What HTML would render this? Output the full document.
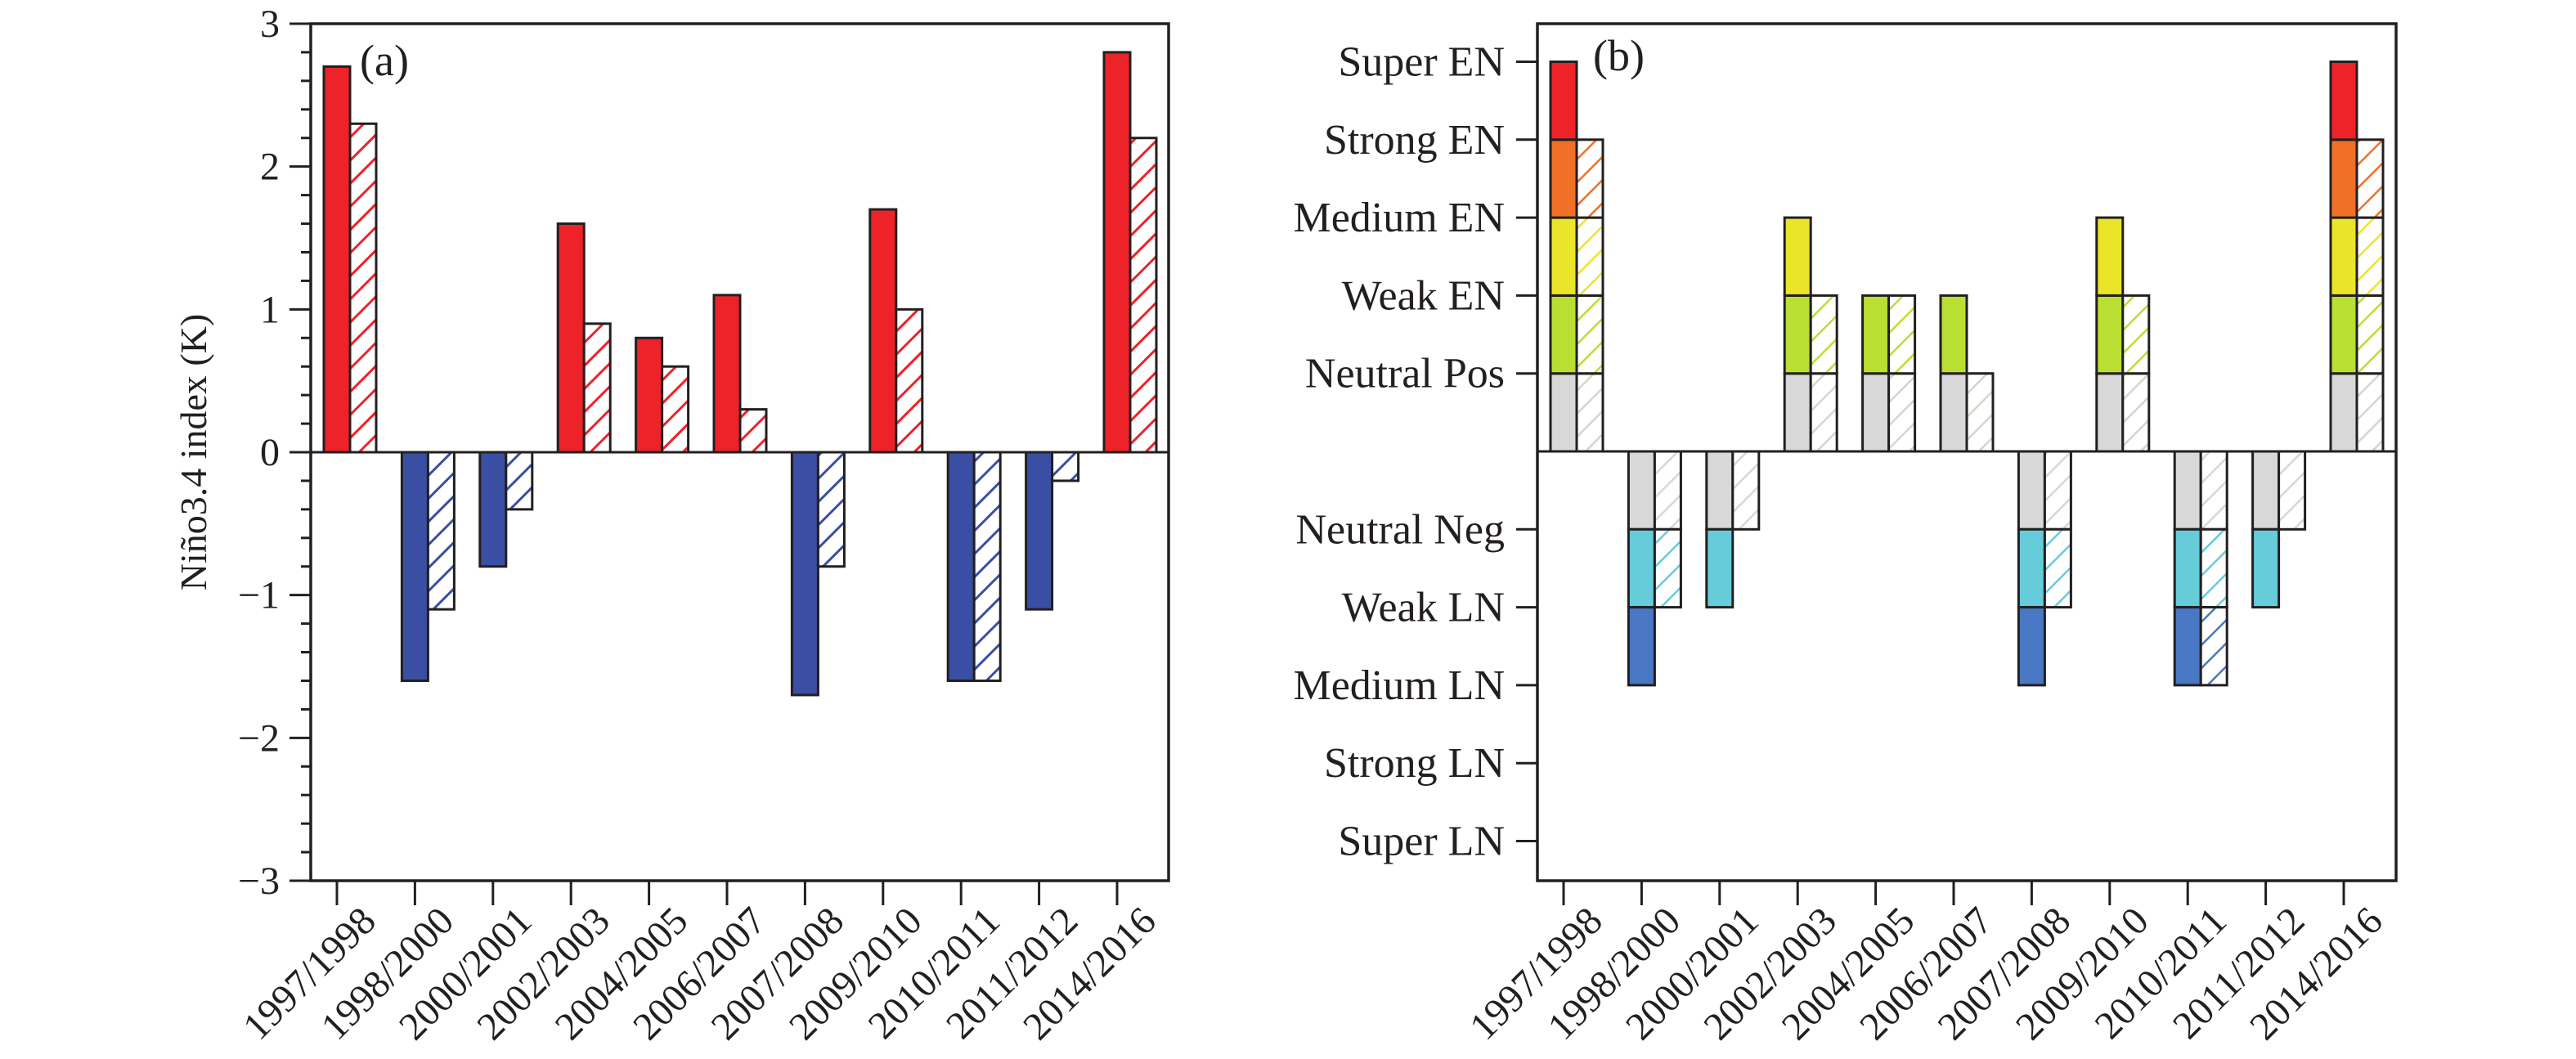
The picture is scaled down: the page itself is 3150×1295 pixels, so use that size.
<!DOCTYPE html>
<html><head><meta charset="utf-8">
<style>
html,body{margin:0;padding:0;background:#fff;}
svg{display:block;font-family:"Liberation Serif","DejaVu Serif",serif;}
</style></head>
<body>
<svg id="chart" width="3150" height="1295" viewBox="0 0 3150 1295" xmlns="http://www.w3.org/2000/svg">
<defs>
  <pattern id="hatch-red" patternUnits="userSpaceOnUse" width="20" height="20" patternTransform="rotate(45)"><rect width="20" height="20" fill="#fff"/><line x1="0" y1="0" x2="0" y2="20" stroke="#ee2229" stroke-width="6"/></pattern>
  <pattern id="hatch-navy" patternUnits="userSpaceOnUse" width="20" height="20" patternTransform="rotate(45)"><rect width="20" height="20" fill="#fff"/><line x1="0" y1="0" x2="0" y2="20" stroke="#3a4ea3" stroke-width="6"/></pattern>
</defs>
<g id="panelA"></g>
<g id="panelB"></g>
</svg>
<script>
const categories = ["1997/1998","1998/2000","2000/2001","2002/2003","2004/2005","2006/2007","2007/2008","2009/2010","2010/2011","2011/2012","2014/2016"];
const ninoSolid = [2.7,-1.6,-0.8,1.6,0.8,1.1,-1.7,1.7,-1.6,-1.1,2.8];
const ninoHatch = [2.3,-1.1,-0.4,0.9,0.6,0.3,-0.8,1.0,-1.6,-0.2,2.2];
const yTicksA = [-3,-2,-1,0,1,2,3];
const levelLabels = ["Super LN","Strong LN","Medium LN","Weak LN","Neutral Neg","Neutral Pos","Weak EN","Medium EN","Strong EN","Super EN"];
const levelValues = [-5,-4,-3,-2,-1,1,2,3,4,5];
const levelSolid = [5,-3,-2,3,2,2,-3,3,-3,-2,5];
const levelHatch = [4,-2,-1,2,2,1,-2,2,-3,-1,4];
const posColors = ["#d8d8d8","#badf33","#ebe52a","#f07028","#ee2229"];
const negColors = ["#d8d8d8","#66ccda","#4878c4","#3a4ea3","#2a3580"];
const hatchPos = ["#d2d6cc","#badf33","#ebe52a","#f07028","#ee2229"];
const hatchNeg = ["#d2d8dc","#66ccda","#4878c4","#3a4ea3","#2a3580"];

const NS="http://www.w3.org/2000/svg";
function mk(parent, tag, attrs){const e=document.createElementNS(NS,tag);for(const k in attrs)e.setAttribute(k,attrs[k]);parent.appendChild(e);return e;}

const TOP=29, BOT=1077, STEP=95.4, BW=32;
// ---------- Panel A ----------
const A=document.getElementById('panelA');
const aL=380, aR=1429;
const yA=v=>TOP+(3-v)*(BOT-TOP)/6;
const xA=i=>aL+32+i*STEP;
categories.forEach((c,i)=>{
  const v=ninoSolid[i];
  let r=mk(A,'rect',{x:xA(i)-BW/2,y:Math.min(yA(v),yA(0)),width:BW,height:Math.abs(yA(v)-yA(0)),fill:v>=0?'#ee2229':'#3a4ea3',stroke:'#231f20','stroke-width':3});
  
  
  const h=ninoHatch[i];
  let r2=mk(A,'rect',{x:xA(i)+BW/2,y:Math.min(yA(h),yA(0)),width:BW,height:Math.abs(yA(h)-yA(0)),fill:h>=0?'url(#hatch-red)':'url(#hatch-navy)',stroke:'#231f20','stroke-width':3});
  
  
});
let z=mk(A,'line',{x1:aL,x2:aR,y1:yA(0),y2:yA(0),stroke:'#231f20','stroke-width':3});


let fa=mk(A,'rect',{x:aL,y:TOP,width:aR-aL,height:BOT-TOP,fill:'none',stroke:'#231f20','stroke-width':3.5});


for(let k=-30;k<=30;k+=2){
  const v=k/10, y=yA(v), major=(k%10===0);
  mk(A,'line',{x1:aL-(major?26:12),x2:aL,y1:y,y2:y,stroke:'#231f20','stroke-width':3});
}
yTicksA.forEach(v=>{
  let t=mk(A,'text',{x:aL-38,y:yA(v)+16,'text-anchor':'end','font-size':48,fill:'#231f20'});
  t.textContent=(v<0?'\u2212'+(-v):String(v));
  
  
});
let yt=mk(A,'text',{x:0,y:0,'text-anchor':'middle','font-size':46,fill:'#231f20',transform:'translate(252,553) rotate(-90)'});
yt.textContent='Niño3.4 index (K)';


let la=mk(A,'text',{x:440,y:92,'font-size':54,fill:'#231f20'});
la.textContent='(a)';


categories.forEach((c,i)=>{
  mk(A,'line',{x1:xA(i),x2:xA(i),y1:BOT,y2:BOT+30,stroke:'#231f20','stroke-width':3});
  let t=mk(A,'text',{x:0,y:0,'text-anchor':'end','font-size':48,fill:'#231f20',transform:`translate(${xA(i)+50},${BOT+52}) rotate(-45)`});
  t.textContent=c;
  
  
});

// ---------- Panel B ----------
const B=document.getElementById('panelB');
const bL=1880, bR=2930, ZERO=552, LSTEP=95.3;
const yB=v=>ZERO-v*LSTEP;
const xB=i=>bL+32+i*STEP;
function pat(id,color){
  const defs=document.querySelector('defs');
  if(document.getElementById(id))return;
  const p=mk(defs,'pattern',{id:id,patternUnits:'userSpaceOnUse',width:20,height:20,patternTransform:'rotate(45)'});
  mk(p,'rect',{width:20,height:20,fill:'#fff'});
  mk(p,'line',{x1:0,y1:0,x2:0,y2:20,stroke:color,'stroke-width':5});
}
categories.forEach((c,i)=>{
  [[levelSolid[i],0],[levelHatch[i],1]].forEach(([lv,hatched])=>{
    const n=Math.abs(lv), sgn=lv>0?1:-1;
    for(let k=0;k<n;k++){
      const y1=yB(sgn*k), y2=yB(sgn*(k+1));
      let fill;
      if(hatched){const col=(sgn>0?hatchPos:hatchNeg)[k];const id='h'+(sgn>0?'p':'n')+k;pat(id,col);fill='url(#'+id+')';}
      else fill=(sgn>0?posColors:negColors)[k];
      let r=mk(B,'rect',{x:xB(i)-BW/2+hatched*BW,y:Math.min(y1,y2),width:BW,height:Math.abs(y2-y1),fill:fill,stroke:'#231f20','stroke-width':3});
      
      
    }
  });
});
let z2=mk(B,'line',{x1:bL,x2:bR,y1:ZERO,y2:ZERO,stroke:'#231f20','stroke-width':3});


let fb=mk(B,'rect',{x:bL,y:TOP,width:bR-bL,height:BOT-TOP,fill:'none',stroke:'#231f20','stroke-width':3.5});


levelLabels.forEach((lab,j)=>{
  const y=yB(levelValues[j]);
  mk(B,'line',{x1:bL-26,x2:bL,y1:y,y2:y,stroke:'#231f20','stroke-width':3});
  let t=mk(B,'text',{x:bL-40,y:y+17,'text-anchor':'end','font-size':52,fill:'#231f20'});
  t.textContent=lab;
  
  
});
let lb=mk(B,'text',{x:1948,y:86,'font-size':54,fill:'#231f20'});
lb.textContent='(b)';


categories.forEach((c,i)=>{
  mk(B,'line',{x1:xB(i),x2:xB(i),y1:BOT,y2:BOT+30,stroke:'#231f20','stroke-width':3});
  let t=mk(B,'text',{x:0,y:0,'text-anchor':'end','font-size':48,fill:'#231f20',transform:`translate(${xB(i)+50},${BOT+52}) rotate(-45)`});
  t.textContent=c;
  
  
});
</script>
</body></html>
